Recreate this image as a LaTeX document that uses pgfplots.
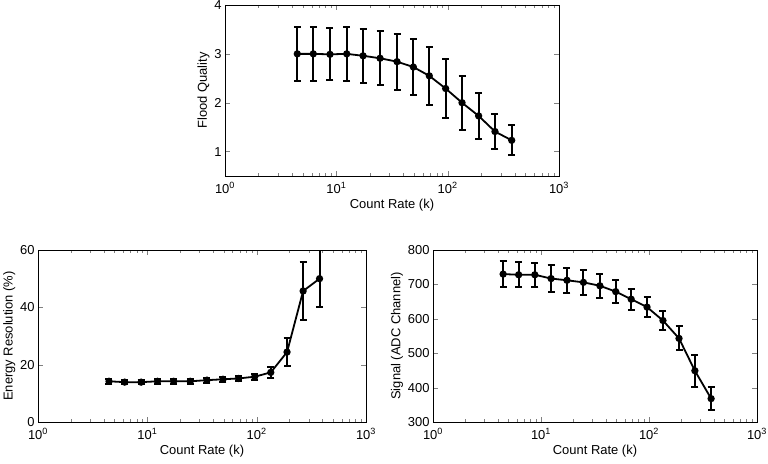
\documentclass[border=0pt]{standalone}
\usepackage{fontspec}
\setmainfont{Liberation Sans}
\usepackage{pgfplots}
\usepackage{pgfplotstable}
\pgfplotsset{compat=1.18}
\pgfplotstableread{
x y e
4.46 3.00 0.55
6.21 3.00 0.55
8.77 2.99 0.53
12.4 3.00 0.55
17.4 2.96 0.55
24.7 2.91 0.55
35.1 2.84 0.57
49.2 2.73 0.58
68.4 2.55 0.60
95.9 2.29 0.60
134.6 2.00 0.55
189.7 1.73 0.47
266 1.41 0.35
376 1.23 0.31
}\floodtable
\pgfplotstableread{
x y e
4.46 14.2 0.9
6.21 13.9 0.8
8.77 13.9 0.8
12.4 14.2 0.8
17.4 14.2 0.8
24.7 14.2 0.8
35.1 14.6 0.9
49.2 14.9 0.9
68.4 15.2 1.0
95.9 15.8 1.1
134.6 17.3 1.9
189.7 24.4 5.0
266 45.7 10.2
376 50.0 10.0
}\energytable
\pgfplotstableread{
x y e
4.46 730 37
6.21 728 36
8.77 728 35
12.4 717 39
17.4 712 37
24.7 706 36
35.1 696 35
49.2 679 33
68.4 657 31
95.9 634 29
134.6 595 28
189.7 543 35
266 449 46
376 368 34
}\signaltable
\pgfplotsset{
 every axis/.append style={
  scale only axis,
  /pgf/number format/assume math mode=true,
  axis line style={line width=0.8bp},
  major tick length=5bp, minor tick length=3bp,
  every tick label/.append style={font=\fontsize{13}{15}\selectfont},
  every axis label/.append style={font=\fontsize{13}{15}\selectfont},
  xticklabel style={yshift=-3bp},
  xlabel style={yshift=1bp},
  ylabel style={yshift=-2bp},
 },
}
\begin{document}
\begin{tikzpicture}
\useasboundingbox (0,0) rectangle (768bp,464bp);
\begin{axis}[xmode=log, xmin=1, xmax=1000, xtick={1,10,100,1000},
  xticklabels={10\textsuperscript{0},10\textsuperscript{1},10\textsuperscript{2},10\textsuperscript{3}},
  xlabel={Count Rate (k)},
  anchor=south west, at={(225bp,288bp)}, width=334bp, height=171bp,
  ymin=0.5, ymax=4, ytick={1,2,3,4}, ylabel={Flood Quality}]
\addplot[black, line width=1.8bp, mark=*, mark size=2.7bp,
  error bars/.cd, y dir=both, y explicit,
  error bar style={line width=2bp},
  error mark options={rotate=90, mark size=3.5bp, line width=2bp}]
  table[x=x, y=y, y error=e] {\floodtable};
\end{axis}
\begin{axis}[xmode=log, xmin=1, xmax=1000, xtick={1,10,100,1000},
  xticklabels={10\textsuperscript{0},10\textsuperscript{1},10\textsuperscript{2},10\textsuperscript{3}},
  xlabel={Count Rate (k)},
  anchor=south west, at={(38bp,42bp)}, width=328bp, height=172bp,
  ymin=0, ymax=60, ytick={0,20,40,60}, ylabel={Energy Resolution (\%)}]
\addplot[black, line width=1.8bp, mark=*, mark size=2.7bp,
  error bars/.cd, y dir=both, y explicit,
  error bar style={line width=2bp},
  error mark options={rotate=90, mark size=3.5bp, line width=2bp}]
  table[x=x, y=y, y error=e] {\energytable};
\end{axis}
\begin{axis}[xmode=log, xmin=1, xmax=1000, xtick={1,10,100,1000},
  xticklabels={10\textsuperscript{0},10\textsuperscript{1},10\textsuperscript{2},10\textsuperscript{3}},
  xlabel={Count Rate (k)},
  anchor=south west, at={(433bp,42bp)}, width=324bp, height=172bp,
  ymin=300, ymax=800, ytick={300,400,500,600,700,800}, ylabel={Signal (ADC Channel)}]
\addplot[black, line width=1.8bp, mark=*, mark size=2.7bp,
  error bars/.cd, y dir=both, y explicit,
  error bar style={line width=2bp},
  error mark options={rotate=90, mark size=3.5bp, line width=2bp}]
  table[x=x, y=y, y error=e] {\signaltable};
\end{axis}
\end{tikzpicture}
\end{document}
